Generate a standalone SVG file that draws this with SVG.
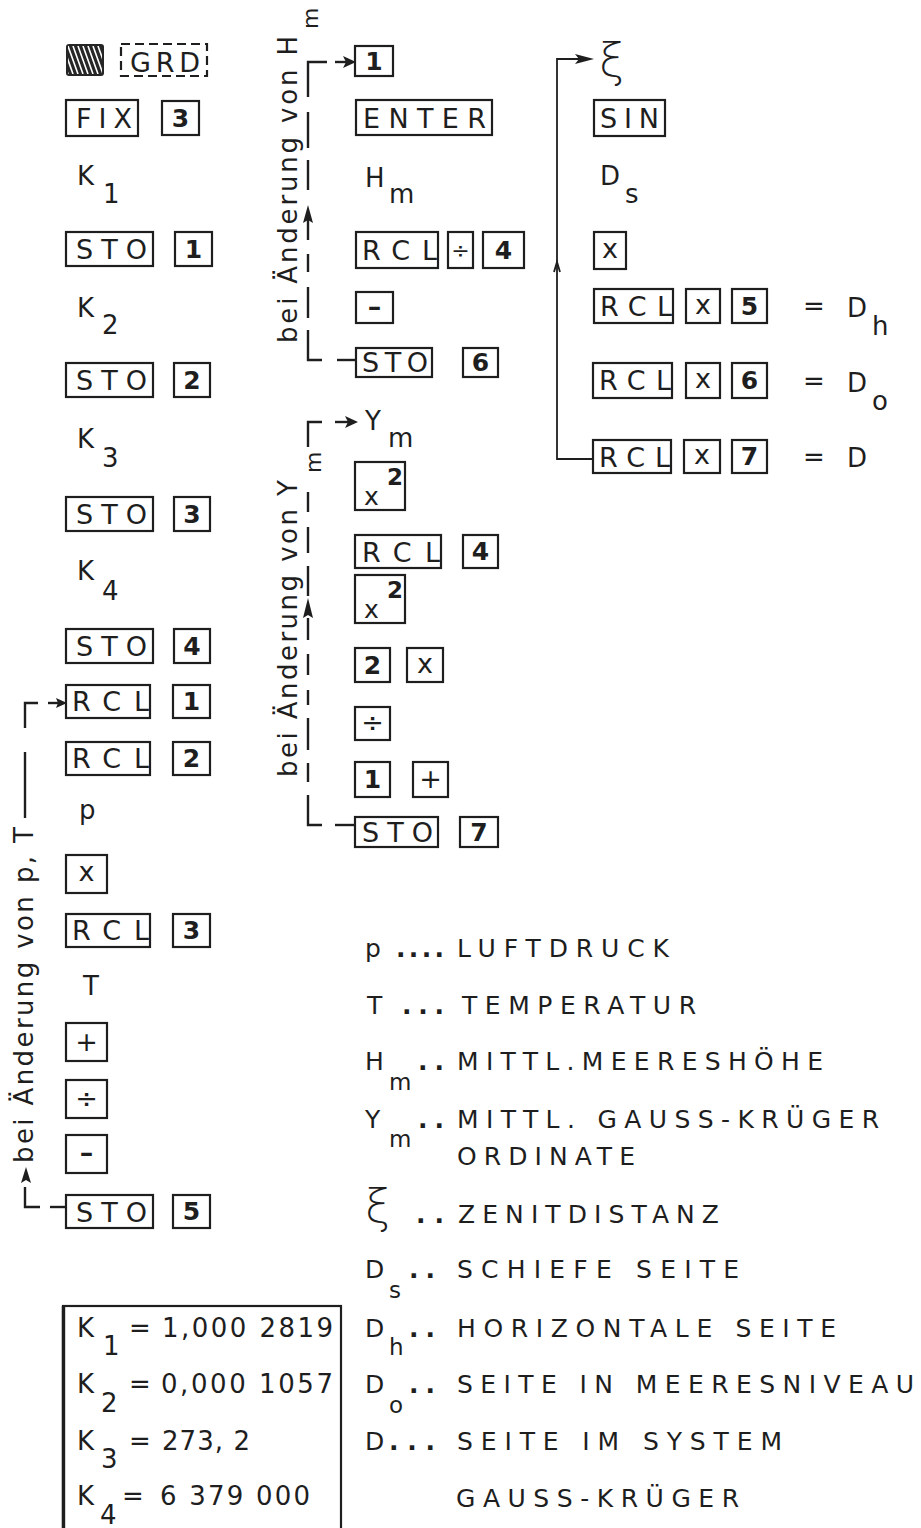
<svg xmlns="http://www.w3.org/2000/svg" width="921" height="1528" viewBox="0 0 921 1528">
<style>
text { font-family: "DejaVu Sans", "Liberation Sans", sans-serif; font-size: 26px; fill: #1e1e1e; }
.bx { font-size: 27px; }
.k { fill: none; stroke: #1e1e1e; stroke-width: 2.2; }
.dg { font-weight: bold; text-anchor: middle; font-size: 25px; }
.op { text-anchor: middle; font-size: 27px; }
.ln { fill: none; stroke: #1e1e1e; stroke-width: 2.4; }
.rl { fill: none; stroke: #1e1e1e; stroke-width: 1.8; }
.ah { fill: #1e1e1e; }
.lg { font-size: 25px; }
.dt { font-size: 25px; font-weight: bold; }
.sb { font-size: 23px; }
.rm { font-size: 22px; }
.xi { font-size: 46px; font-weight: 200; font-family: "DejaVu Sans ExtraLight", "DejaVu Sans", sans-serif; }
.sqx { font-size: 25px; }
.sq2 { font-size: 23px; font-weight: bold; }
</style>
<defs>
<clipPath id="hc"><rect x="68" y="46" width="34" height="28"/></clipPath>
</defs>
<rect width="921" height="1528" fill="#fff"/>

<!-- left column -->
<g id="n-hatch">
<rect x="66" y="44" width="38" height="32" rx="3" fill="#262626"/>
<g clip-path="url(#hc)" stroke="#fff" stroke-width="1.6">
<path d="M58,46 L68,74 M63,46 L73,74 M68,46 L78,74 M73,46 L83,74 M78,46 L88,74 M83,46 L93,74 M88,46 L98,74 M93,46 L103,74 M98,46 L108,74"/>
</g>
</g>
<g id="n-grd"><rect x="121" y="44" width="86" height="32" class="k" stroke-dasharray="9 5"/><text class="bx" x="130" y="72" textLength="70">GRD</text></g>
<g id="n-fix"><rect x="66" y="100" width="72" height="36" class="k"/><text class="bx" x="76" y="128" textLength="56">FIX</text></g>
<g id="n-fix3"><rect x="162" y="101" width="37" height="34" class="k"/><text class="dg" x="180.5" y="127">3</text></g>
<g id="n-k1"><text x="77" y="185">K</text><text x="103" y="203">1</text></g>
<g id="n-sto1"><rect x="66" y="232" width="87" height="34" class="k"/><text class="bx" x="76" y="259" textLength="71">STO</text></g>
<g id="n-sto1d"><rect x="175" y="232" width="37" height="34" class="k"/><text class="dg" x="193.5" y="258">1</text></g>
<g id="n-k2"><text x="77" y="317">K</text><text x="102" y="334">2</text></g>
<g id="n-sto2"><rect x="66" y="363" width="87" height="34" class="k"/><text class="bx" x="76" y="390" textLength="71">STO</text></g>
<g id="n-sto2d"><rect x="174" y="363" width="36" height="34" class="k"/><text class="dg" x="192" y="389">2</text></g>
<g id="n-k3"><text x="77" y="448">K</text><text x="102" y="467">3</text></g>
<g id="n-sto3"><rect x="66" y="497" width="87" height="34" class="k"/><text class="bx" x="76" y="524" textLength="71">STO</text></g>
<g id="n-sto3d"><rect x="174" y="497" width="36" height="34" class="k"/><text class="dg" x="192" y="523">3</text></g>
<g id="n-k4"><text x="77" y="580">K</text><text x="102" y="600">4</text></g>
<g id="n-sto4"><rect x="66" y="629" width="87" height="34" class="k"/><text class="bx" x="76" y="656" textLength="71">STO</text></g>
<g id="n-sto4d"><rect x="174" y="629" width="36" height="34" class="k"/><text class="dg" x="192" y="655">4</text></g>
<g id="n-rcl1"><rect x="66" y="685" width="84" height="33" class="k"/><text class="bx" x="72" y="711" textLength="77">RCL</text></g>
<g id="n-rcl1d"><rect x="173" y="685" width="37" height="33" class="k"/><text class="dg" x="191.5" y="710">1</text></g>
<g id="n-rcl2"><rect x="66" y="742" width="84" height="33" class="k"/><text class="bx" x="72" y="768" textLength="77">RCL</text></g>
<g id="n-rcl2d"><rect x="173" y="742" width="37" height="33" class="k"/><text class="dg" x="191.5" y="767">2</text></g>
<g id="n-p"><text x="79" y="819">p</text></g>
<g id="n-mul1"><rect x="66" y="855" width="41" height="38" class="k"/><text class="op" x="86.5" y="881">x</text></g>
<g id="n-rcl3"><rect x="66" y="914" width="84" height="33" class="k"/><text class="bx" x="72" y="940" textLength="77">RCL</text></g>
<g id="n-rcl3d"><rect x="173" y="914" width="37" height="33" class="k"/><text class="dg" x="191.5" y="939">3</text></g>
<g id="n-t"><text x="83" y="995">T</text></g>
<g id="n-plus1"><rect x="66" y="1023" width="41" height="38" class="k"/><text class="op" x="86.5" y="1051">+</text></g>
<g id="n-div1"><rect x="66" y="1080" width="41" height="38" class="k"/><text class="op" x="86.5" y="1108">÷</text></g>
<g id="n-minus1"><rect x="66" y="1135" width="41" height="38" class="k"/><text class="op" x="86.5" y="1162" font-weight="bold">–</text></g>
<g id="n-sto5"><rect x="66" y="1195" width="87" height="33" class="k"/><text class="bx" x="76" y="1222" textLength="71">STO</text></g>
<g id="n-sto5d"><rect x="173" y="1195" width="37" height="33" class="k"/><text class="dg" x="191.5" y="1220">5</text></g>

<!-- constants box -->
<g id="n-kbox">
<rect x="63" y="1306" width="278" height="240" class="k" stroke-width="2.6"/>
<line x1="63.5" y1="1306" x2="63.5" y2="1528" stroke="#1e1e1e" stroke-width="3.4"/>
<text x="77" y="1337">K</text><text x="103" y="1355">1</text><text x="129" y="1337">=</text><text x="162" y="1337" textLength="171">1,000 2819</text>
<text x="77" y="1393">K</text><text x="101" y="1412">2</text><text x="129" y="1393">=</text><text x="161" y="1393" textLength="172">0,000 1057</text>
<text x="77" y="1450">K</text><text x="101" y="1468">3</text><text x="129" y="1450">=</text><text x="162" y="1450" textLength="88">273, 2</text>
<text x="77" y="1505">K</text><text x="100" y="1524">4</text><text x="122" y="1505">=</text><text x="160" y="1505" textLength="150">6 379 000</text>
</g>

<!-- middle column -->
<g id="n-m1"><rect x="355" y="46" width="38" height="30" class="k"/><text class="dg" x="374" y="70">1</text></g>
<g id="n-enter"><rect x="356" y="100" width="136" height="35" class="k"/><text class="bx" x="363" y="128" textLength="123">ENTER</text></g>
<g id="n-hm"><text x="365" y="187">H</text><text x="389" y="203">m</text></g>
<g id="n-rcl4"><rect x="356" y="232" width="82" height="36" class="k"/><text class="bx" x="362" y="260" textLength="75">RCL</text></g>
<g id="n-div2"><rect x="448" y="232" width="25" height="36" class="k"/><text class="op rm" x="460.5" y="258">÷</text></g>
<g id="n-d4a"><rect x="483" y="232" width="41" height="36" class="k"/><text class="dg" x="503.5" y="259">4</text></g>
<g id="n-minus2"><rect x="356" y="292" width="37" height="31" class="k"/><text class="op" x="374.5" y="316" font-weight="bold">–</text></g>
<g id="n-sto6"><rect x="356" y="348" width="76" height="29" class="k"/><text class="bx" x="362" y="372" textLength="66">STO</text></g>
<g id="n-sto6d"><rect x="463" y="348" width="35" height="29" class="k"/><text class="dg" x="480.5" y="371">6</text></g>
<g id="n-ym"><text x="365" y="430">Y</text><text x="388" y="447">m</text></g>
<g id="n-sq1"><rect x="355" y="462" width="50" height="48" class="k"/><text class="sqx" x="364" y="505">x</text><text class="sq2" x="387" y="485">2</text></g>
<g id="n-rcl5"><rect x="355" y="535" width="86" height="33" class="k"/><text class="bx" x="362" y="562" textLength="78">RCL</text></g>
<g id="n-d4b"><rect x="463" y="535" width="35" height="33" class="k"/><text class="dg" x="480.5" y="560">4</text></g>
<g id="n-sq2"><rect x="355" y="575" width="50" height="48" class="k"/><text class="sqx" x="364" y="618">x</text><text class="sq2" x="387" y="598">2</text></g>
<g id="n-d2"><rect x="355" y="648" width="35" height="34" class="k"/><text class="dg" x="372.5" y="674">2</text></g>
<g id="n-mul2"><rect x="407" y="648" width="36" height="34" class="k"/><text class="op" x="425" y="673">x</text></g>
<g id="n-div3"><rect x="355" y="707" width="35" height="33" class="k"/><text class="op" x="372.5" y="732">÷</text></g>
<g id="n-d1"><rect x="355" y="762" width="35" height="35" class="k"/><text class="dg" x="372.5" y="788">1</text></g>
<g id="n-plus2"><rect x="413" y="762" width="35" height="35" class="k"/><text class="op" x="430.5" y="788">+</text></g>
<g id="n-sto7"><rect x="355" y="817" width="83" height="30" class="k"/><text class="bx" x="362" y="842" textLength="71">STO</text></g>
<g id="n-sto7d"><rect x="460" y="817" width="38" height="30" class="k"/><text class="dg" x="479" y="841">7</text></g>

<!-- right column -->
<g id="n-xi"><text class="xi" x="599" y="76">ξ</text></g>
<g id="n-sin"><rect x="594" y="100" width="71" height="36" class="k"/><text class="bx" x="600" y="128" textLength="59">SIN</text></g>
<g id="n-ds"><text x="600" y="185">D</text><text x="625" y="203">s</text></g>
<g id="n-mul3"><rect x="594" y="232" width="32" height="37" class="k"/><text class="op" x="610" y="258">x</text></g>
<g id="n-r5"><rect x="594" y="289" width="79" height="34" class="k"/><text class="bx" x="600" y="316" textLength="72">RCL</text>
<rect x="686" y="289" width="34" height="34" class="k"/><text class="op" x="703" y="314">x</text>
<rect x="732" y="289" width="35" height="34" class="k"/><text class="dg" x="749.5" y="315">5</text>
<text x="803" y="315">=</text><text x="847" y="317">D</text><text x="872" y="335">h</text></g>
<g id="n-r6"><rect x="593" y="363" width="79" height="35" class="k"/><text class="bx" x="599" y="390" textLength="72">RCL</text>
<rect x="686" y="363" width="34" height="35" class="k"/><text class="op" x="703" y="388">x</text>
<rect x="732" y="363" width="35" height="35" class="k"/><text class="dg" x="749.5" y="389">6</text>
<text x="803" y="390">=</text><text x="847" y="392">D</text><text x="872" y="410">o</text></g>
<g id="n-r7"><rect x="593" y="440" width="78" height="33" class="k"/><text class="bx" x="599" y="467" textLength="71">RCL</text>
<rect x="684" y="440" width="36" height="33" class="k"/><text class="op" x="702" y="464">x</text>
<rect x="732" y="440" width="35" height="33" class="k"/><text class="dg" x="749.5" y="465">7</text>
<text x="803" y="466">=</text><text x="847" y="467">D</text></g>

<!-- connectors -->
<g id="connectors">
<!-- left loop p,T -->
<path class="ln" d="M25,728 V703 H38"/>
<path class="ln" d="M48,703 H60"/>
<polygon class="ah" points="67,703 56,698 58,703 56,708"/>
<path class="ln" d="M25,752 V818"/>
<polygon class="ah" points="26,1167 21,1183 26,1180 31,1183"/>
<path class="ln" d="M25,1187 V1207 H40"/>
<path class="ln" d="M50,1207 H65"/>
<text transform="translate(33,1163) rotate(-90)" textLength="336">bei Änderung von p, T</text>

<!-- middle loop H_m -->
<path class="ln" d="M327,62 H308 V97"/>
<path class="ln" d="M335,62 H347"/>
<polygon class="ah" points="356,62 343,56 346,62 343,68"/>
<path class="ln" d="M308,112 V148 M308,160 V190 M308,220 V240 M308,254 V272 M308,287 V318"/>
<polygon class="ah" points="308,205 303,223 308,220 313,223"/>
<path class="ln" d="M308,330 V360 H322"/>
<path class="ln" d="M337,360 H356"/>
<text transform="translate(297,343) rotate(-90)" textLength="307">bei Änderung von H</text>
<text class="rm" transform="translate(318,29) rotate(-90)">m</text>

<!-- middle loop Y_m -->
<path class="ln" d="M322,422 H308 V447"/>
<path class="ln" d="M335,422 H349"/>
<polygon class="ah" points="358,422 345,416 348,422 345,428"/>
<path class="ln" d="M308,492 V512 M308,527 V553 M308,566 V596 M308,618 V640 M308,654 V675 M308,690 V705 M308,718 V750 M308,763 V782"/>
<polygon class="ah" points="308,598 303,618 308,615 313,618"/>
<path class="ln" d="M308,795 V825 H322"/>
<path class="ln" d="M335,825 H355"/>
<text transform="translate(297,777) rotate(-90)" textLength="297">bei Änderung von Y</text>
<text class="rm" transform="translate(321,473) rotate(-90)">m</text>

<!-- right loop -->
<path class="rl" d="M593,459 H557 V59 H580"/>
<polygon class="ah" points="594,59 575,54 579,59 575,64"/>
<path class="rl" d="M554,272 L557,262 L560,272"/>
</g>

<!-- legend -->
<g id="legend">
<text class="lg" x="365" y="957">p</text><text class="dt" x="396" y="957" textLength="48">....</text><text class="lg" x="457" y="957" textLength="212">LUFTDRUCK</text>
<text class="lg" x="367" y="1014">T</text><text class="dt" x="402" y="1014" textLength="42">...</text><text class="lg" x="462" y="1014" textLength="234">TEMPERATUR</text>
<text class="lg" x="365" y="1070">H</text><text class="sb" x="389" y="1090">m</text><text class="dt" x="418" y="1070" textLength="26">..</text><text class="lg" x="457" y="1070" textLength="366">MITTL.MEERESHÖHE</text>
<text class="lg" x="365" y="1128">Y</text><text class="sb" x="389" y="1147">m</text><text class="dt" x="418" y="1128" textLength="26">..</text><text class="lg" x="457" y="1128" textLength="422">MITTL. GAUSS-KRÜGER</text>
<text class="lg" x="457" y="1165" textLength="178">ORDINATE</text>
<text class="xi" x="365" y="1222">ξ</text><text class="dt" x="416" y="1223" textLength="28">..</text><text class="lg" x="458" y="1223" textLength="261">ZENITDISTANZ</text>
<text class="lg" x="365" y="1278">D</text><text class="sb" x="389" y="1298">s</text><text class="dt" x="409" y="1278" textLength="26">..</text><text class="lg" x="457" y="1278" textLength="282">SCHIEFE SEITE</text>
<text class="lg" x="365" y="1337">D</text><text class="sb" x="389" y="1355">h</text><text class="dt" x="409" y="1337" textLength="26">..</text><text class="lg" x="457" y="1337" textLength="379">HORIZONTALE SEITE</text>
<text class="lg" x="365" y="1393">D</text><text class="sb" x="389" y="1413">o</text><text class="dt" x="409" y="1393" textLength="26">..</text><text class="lg" x="457" y="1393" textLength="457">SEITE IN MEERESNIVEAU</text>
<text class="lg" x="365" y="1450">D</text><text class="dt" x="389" y="1450" textLength="46">...</text><text class="lg" x="457" y="1450" textLength="325">SEITE IM SYSTEM</text>
<text class="lg" x="456" y="1507" textLength="283">GAUSS-KRÜGER</text>
</g>
</svg>
